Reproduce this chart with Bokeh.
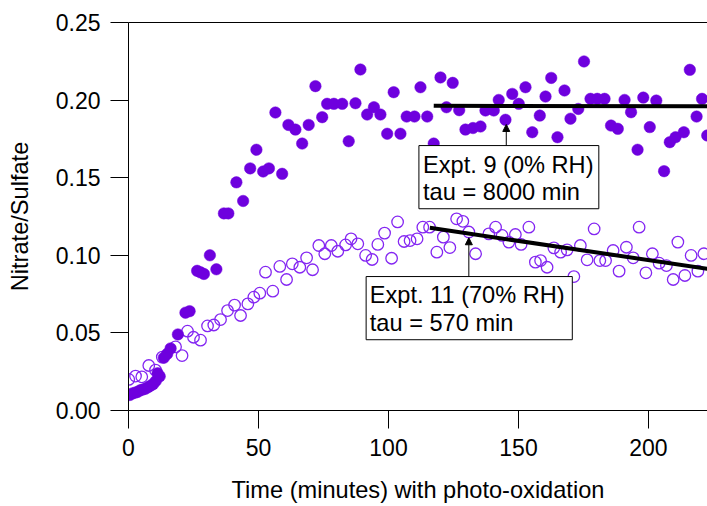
from bokeh.plotting import figure
from bokeh.models import (Range1d, LinearAxis, FixedTicker, BoxAnnotation, Label,
                          Arrow, NormalHead, ColumnDataSource)
from bokeh.embed import file_html
from bokeh.resources import INLINE

# ---- data ----
expt9_time = [0.5, 1.5, 2.5, 3.5, 4.5, 5.5, 6.5, 7.5, 8.5, 9.5, 10.5, 11.2, 12.0, 13.6, 14.9, 16.2, 19.0,
              21.9, 23.5, 26.4, 27.7, 29.0, 31.3, 33.8, 36.7, 38.4, 41.5, 44.1, 46.8, 49.2, 51.8, 54.0,
              56.5, 59.1, 61.5, 64.2, 66.8, 69.3, 71.9, 74.5, 76.4, 79.0, 82.2, 84.7, 87.3, 89.2, 91.8,
              94.4, 96.9, 99.5, 102.0, 104.6, 107.0, 110.0, 112.3, 114.9, 117.4, 120.0, 122.3, 124.7,
              127.2, 129.6, 132.5, 135.4, 137.3, 140.5, 142.4, 145.0, 147.6, 150.1, 152.7, 155.3, 158.2,
              160.4, 162.6, 165.0, 167.7, 170.0, 173.0, 175.2, 177.7, 180.3, 183.1, 185.6, 188.2, 190.8,
              193.3, 195.8, 198.0, 200.5, 203.0, 206.0, 208.2, 210.4, 213.6, 215.9, 218.5, 220.6, 222.6]
expt9_ratio = [0.010, 0.011, 0.0115, 0.012, 0.013, 0.0135, 0.014, 0.015, 0.016, 0.017, 0.019, 0.024, 0.022,
               0.034, 0.0365, 0.040, 0.049, 0.063, 0.064, 0.090, 0.089, 0.088, 0.100, 0.091, 0.127, 0.127,
               0.147, 0.135, 0.156, 0.168, 0.154, 0.156, 0.192, 0.1525, 0.184, 0.181, 0.172, 0.184, 0.209,
               0.189, 0.1976, 0.1976, 0.1976, 0.1735, 0.198, 0.2197, 0.1907, 0.1954, 0.1907, 0.1783,
               0.2051, 0.1783, 0.1894, 0.1894, 0.2083, 0.1894, 0.172, 0.2146, 0.1954, 0.2111, 0.1935,
               0.181, 0.182, 0.183, 0.1933, 0.1933, 0.2001, 0.1873, 0.204, 0.1976, 0.2083, 0.1793, 0.19,
               0.2023, 0.2143, 0.1761, 0.2062, 0.188, 0.1943, 0.2249, 0.2008, 0.2008, 0.2008, 0.1836,
               0.1815, 0.2001, 0.1922, 0.168, 0.2016, 0.1826, 0.1997, 0.1542, 0.1729, 0.1761, 0.1793,
               0.2195, 0.1894, 0.2008, 0.1772]

expt11_time = [0.1, 2.7, 5.1, 7.8, 10.4, 13.0, 18.1, 20.6, 22.7, 25.0, 27.7, 30.4, 32.8, 35.4, 38.1, 40.8,
               43.1, 45.9, 48.2, 50.5, 52.7, 55.5, 58.2, 60.8, 63.0, 65.9, 68.5, 70.8, 73.2, 75.5, 78.0,
               80.5, 83.5, 85.6, 88.2, 91.2, 93.7, 95.9, 98.5, 101.2, 103.5, 106.0, 108.3, 111.0, 113.2,
               115.8, 118.6, 121.1, 123.6, 126.2, 128.6, 130.9, 133.5, 138.6, 141.2, 143.7, 146.3, 148.8,
               151.0, 154.0, 156.5, 158.5, 161.0, 163.6, 166.2, 168.7, 171.3, 173.8, 176.4, 179.1, 181.3,
               183.5, 186.4, 188.7, 191.5, 194.1, 196.4, 199.0, 201.5, 204.1, 206.9, 209.5, 211.3, 214.0,
               216.4, 219.0, 221.3]
expt11_ratio = [0.020, 0.0222, 0.0217, 0.029, 0.026, 0.0344, 0.041, 0.0354, 0.0511, 0.0472, 0.0453, 0.0545,
                0.0551, 0.0586, 0.0644, 0.0679, 0.0612, 0.0687, 0.073, 0.0756, 0.0891, 0.0769, 0.0928,
                0.0844, 0.0945, 0.0923, 0.0984, 0.0907, 0.1063, 0.101, 0.1063, 0.1026, 0.1067, 0.1106,
                0.1074, 0.0999, 0.0973, 0.107, 0.1143, 0.0981, 0.1215, 0.1089, 0.1095, 0.1106, 0.1181,
                0.1181, 0.102, 0.1117, 0.105, 0.1235, 0.1219, 0.115, 0.101, 0.1138, 0.1181, 0.1128, 0.1085,
                0.1134, 0.107, 0.1181, 0.0956, 0.0966, 0.0923, 0.1048, 0.102, 0.1035, 0.0863, 0.1063,
                0.0971, 0.117, 0.0966, 0.0966, 0.1031, 0.0898, 0.1052, 0.0984, 0.1181, 0.0887, 0.101,
                0.0949, 0.0934, 0.0844, 0.1085, 0.087, 0.0999, 0.0898, 0.101]

fit9_time = [117.4, 230.0]
fit9_ratio = [0.1963, 0.1960]
fit11_time = [115.9, 230.0]
fit11_ratio = [0.1177, 0.0895]

x_ticks = [0, 50, 100, 150, 200]
x_tick_labels = ["0", "50", "100", "150", "200"]
y_ticks = [0.0, 0.05, 0.10, 0.15, 0.20, 0.25]
y_tick_labels = ["0.00", "0.05", "0.10", "0.15", "0.20", "0.25"]

label9 = ["Expt. 9 (0% RH)", "tau = 8000 min"]
label11 = ["Expt. 11 (70% RH)", "tau = 570 min"]

FONT = "Liberation Sans"
FS_TICK = "23px"
FS_TEXT = "23.6px"
C_FILLED = "#6E00DE"
C_OPEN = "#8426F2"

p = figure(width=707, height=506, output_backend="svg", toolbar_location=None,
           x_range=Range1d(0, 222.7), y_range=Range1d(0, 0.25),
           min_border_left=128, min_border_right=0, min_border_top=22, min_border_bottom=96,
           x_axis_label="Time (minutes) with photo-oxidation", y_axis_label="Nitrate/Sulfate")
p.grid.visible = False
p.outline_line_color = None
p.background_fill_color = "white"
p.border_fill_color = "white"

for ax, ticks, labels in ((p.xaxis[0], x_ticks, x_tick_labels), (p.yaxis[0], y_ticks, y_tick_labels)):
    ax.ticker = FixedTicker(ticks=ticks)
    ax.major_label_overrides = {t: l for t, l in zip(ticks, labels)}
    ax.major_tick_out = 18
    ax.major_tick_in = 0
    ax.minor_tick_line_color = None
    ax.axis_line_color = "black"
    ax.major_tick_line_color = "black"
    ax.major_label_text_font = FONT
    ax.major_label_text_font_size = FS_TICK
    ax.major_label_text_color = "black"
    ax.axis_label_text_font = FONT
    ax.axis_label_text_font_size = FS_TEXT
    ax.axis_label_text_font_style = "normal"
    ax.axis_label_text_color = "black"
    ax.major_label_standoff = 10

p.xaxis[0].axis_label_standoff = 18
p.yaxis[0].axis_label_standoff = 20

top = LinearAxis(ticker=FixedTicker(ticks=[]), major_tick_out=0, major_tick_in=0,
                 minor_tick_out=0, minor_tick_in=0, axis_line_color="black",
                 major_label_text_font_size="0px")
p.add_layout(top, "above")

s9 = ColumnDataSource(dict(t=expt9_time, r=expt9_ratio))
s11 = ColumnDataSource(dict(t=expt11_time, r=expt11_ratio))
p.scatter("t", "r", source=s11, size=11.5, marker="circle", fill_color=None,
          line_color=C_OPEN, line_width=1.3)
p.scatter("t", "r", source=s9, size=11.5, marker="circle", fill_color=C_FILLED,
          line_color=C_FILLED, line_width=0.5)

p.line(fit9_time, fit9_ratio, line_color="black", line_width=4)
p.line(fit11_time, fit11_ratio, line_color="black", line_width=4)

# annotation boxes (data coords)
def add_note(left, right, top_, bottom, tx, ty1, ty2, lines, ax_, ay_tip):
    p.add_layout(BoxAnnotation(left=left, right=right, top=top_, bottom=bottom,
                               fill_color="white", fill_alpha=1.0,
                               line_color="black", line_width=1, line_alpha=1.0))
    for yy, txt in ((ty1, lines[0]), (ty2, lines[1])):
        p.add_layout(Label(x=tx, y=yy, text=txt, text_font=FONT, text_font_size=FS_TEXT,
                           text_color="black", text_baseline="middle", text_align="left"))
    p.add_layout(Arrow(x_start=ax_, y_start=top_, x_end=ax_, y_end=ay_tip, line_width=1,
                       line_color="black",
                       end=NormalHead(size=7, fill_color="black", line_color="black")))

add_note(111.7, 180.9, 0.1707, 0.1300, 113.3, 0.1585, 0.1407, label9, 145.3, 0.1843)
add_note(91.4, 170.7, 0.0863, 0.0456, 92.8, 0.0741, 0.0563, label11, 130.9, 0.1113)

open("out.html", "w").write(file_html(p, INLINE))
